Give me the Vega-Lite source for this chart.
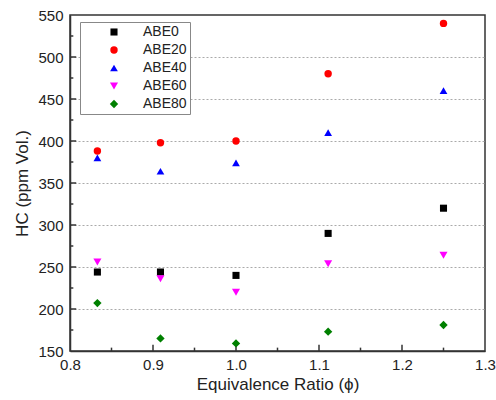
{
  "$schema": "https://vega.github.io/schema/vega-lite/v6.json",
  "width": 415,
  "height": 336,
  "autosize": {"type": "none"},
  "padding": {"left": 70, "top": 15, "right": 11, "bottom": 49},
  "config": {
    "font": "Liberation Sans",
    "view": {"stroke": "#333333", "strokeWidth": 1.5},
    "axis": {
      "domainColor": "#333333",
      "domainWidth": 1.5,
      "labelFont": "Liberation Sans",
      "labelFontSize": 15,
      "labelColor": "#222222",
      "titleFont": "Liberation Sans",
      "titleFontSize": 17,
      "titleFontWeight": "normal",
      "titleColor": "#222222"
    }
  },
  "data": {
    "values": [
      {"phi": 0.833, "hc": 244, "fuel": "ABE0"},
      {"phi": 0.909, "hc": 244, "fuel": "ABE0"},
      {"phi": 1.0, "hc": 240, "fuel": "ABE0"},
      {"phi": 1.111, "hc": 290, "fuel": "ABE0"},
      {"phi": 1.25, "hc": 320, "fuel": "ABE0"},
      {"phi": 0.833, "hc": 388, "fuel": "ABE20"},
      {"phi": 0.909, "hc": 398, "fuel": "ABE20"},
      {"phi": 1.0, "hc": 400, "fuel": "ABE20"},
      {"phi": 1.111, "hc": 480, "fuel": "ABE20"},
      {"phi": 1.25, "hc": 540, "fuel": "ABE20"},
      {"phi": 0.833, "hc": 380, "fuel": "ABE40"},
      {"phi": 0.909, "hc": 364, "fuel": "ABE40"},
      {"phi": 1.0, "hc": 374, "fuel": "ABE40"},
      {"phi": 1.111, "hc": 410, "fuel": "ABE40"},
      {"phi": 1.25, "hc": 460, "fuel": "ABE40"},
      {"phi": 0.833, "hc": 256, "fuel": "ABE60"},
      {"phi": 0.909, "hc": 236, "fuel": "ABE60"},
      {"phi": 1.0, "hc": 220, "fuel": "ABE60"},
      {"phi": 1.111, "hc": 254, "fuel": "ABE60"},
      {"phi": 1.25, "hc": 264, "fuel": "ABE60"},
      {"phi": 0.833, "hc": 207, "fuel": "ABE80"},
      {"phi": 0.909, "hc": 165, "fuel": "ABE80"},
      {"phi": 1.0, "hc": 159, "fuel": "ABE80"},
      {"phi": 1.111, "hc": 173, "fuel": "ABE80"},
      {"phi": 1.25, "hc": 181, "fuel": "ABE80"}
    ]
  },
  "layer": [
    {
      "data": {"values": [{"phi": 0.9}, {"phi": 1.0}, {"phi": 1.1}, {"phi": 1.2}]},
      "mark": {"type": "rule", "color": "#333333", "strokeWidth": 1.5},
      "encoding": {
        "x": {"field": "phi", "type": "quantitative", "scale": {"domain": [0.8, 1.3], "nice": false, "zero": false}},
        "y": {"datum": 150, "type": "quantitative", "scale": {"domain": [150, 550], "nice": false, "zero": false}},
        "y2": {"datum": 157.5}
      }
    },
    {
      "data": {"values": [{"phi": 0.85}, {"phi": 0.95}, {"phi": 1.05}, {"phi": 1.15}, {"phi": 1.25}]},
      "mark": {"type": "rule", "color": "#333333", "strokeWidth": 1.5},
      "encoding": {
        "x": {"field": "phi", "type": "quantitative", "scale": {"domain": [0.8, 1.3], "nice": false, "zero": false}},
        "y": {"datum": 150, "type": "quantitative", "scale": {"domain": [150, 550], "nice": false, "zero": false}},
        "y2": {"datum": 154}
      }
    },
    {
      "data": {"values": [{"hc": 200}, {"hc": 250}, {"hc": 300}, {"hc": 350}, {"hc": 400}, {"hc": 450}, {"hc": 500}]},
      "mark": {"type": "rule", "color": "#333333", "strokeWidth": 1.5},
      "encoding": {
        "y": {"field": "hc", "type": "quantitative", "scale": {"domain": [150, 550], "nice": false, "zero": false}},
        "x": {"datum": 0.8, "type": "quantitative", "scale": {"domain": [0.8, 1.3], "nice": false, "zero": false}},
        "x2": {"datum": 0.8075}
      }
    },
    {
      "data": {"values": [{"hc": 175}, {"hc": 225}, {"hc": 275}, {"hc": 325}, {"hc": 375}, {"hc": 425}, {"hc": 475}, {"hc": 525}]},
      "mark": {"type": "rule", "color": "#333333", "strokeWidth": 1.5},
      "encoding": {
        "y": {"field": "hc", "type": "quantitative", "scale": {"domain": [150, 550], "nice": false, "zero": false}},
        "x": {"datum": 0.8, "type": "quantitative", "scale": {"domain": [0.8, 1.3], "nice": false, "zero": false}},
        "x2": {"datum": 0.804}
      }
    },
    {
      "mark": {"type": "point", "filled": true, "opacity": 1},
      "encoding": {
        "x": {
          "field": "phi",
          "type": "quantitative",
          "title": "Equivalence Ratio (ϕ)",
          "scale": {"domain": [0.8, 1.3], "nice": false, "zero": false},
          "axis": {
            "values": [0.8, 0.9, 1.0, 1.1, 1.2, 1.3],
            "format": ".1f",
            "ticks": false,
            "labelPadding": 6,
            "titlePadding": 4,
            "grid": false,
            "labelFlush": false,
            "labelOverlap": false
          }
        },
        "y": {
          "field": "hc",
          "type": "quantitative",
          "title": "HC (ppm Vol.)",
          "scale": {"domain": [150, 550], "nice": false, "zero": false},
          "axis": {
            "values": [150, 200, 250, 300, 350, 400, 450, 500, 550],
            "ticks": false,
            "labelPadding": 7,
            "titlePadding": 6,
            "grid": true,
            "gridDash": [2, 2],
            "gridColor": "#aaaaaa",
            "gridWidth": 1,
            "gridOpacity": {"condition": {"test": "datum.value > 150 && datum.value < 550", "value": 1}, "value": 0},
            "labelFlush": false,
            "labelOverlap": false
          }
        },
        "color": {
          "field": "fuel",
          "type": "nominal",
          "scale": {"domain": ["ABE0", "ABE20", "ABE40", "ABE60", "ABE80"], "range": ["#000000", "#ff0000", "#0000ff", "#ff00ff", "#008000"]},
          "legend": {
            "title": null,
            "orient": "none",
            "legendX": 10,
            "legendY": 7,
            "strokeColor": "#888888",
            "padding": 3,
            "labelFontSize": 14,
            "labelFont": "Liberation Sans",
            "labelColor": "#222222",
            "symbolSize": 70,
            "symbolOffset": 24,
            "labelOffset": 22,
            "rowPadding": 4,
            "fillColor": "white"
          }
        },
        "shape": {
          "field": "fuel",
          "type": "nominal",
          "scale": {"domain": ["ABE0", "ABE20", "ABE40", "ABE60", "ABE80"], "range": ["square", "circle", "triangle-up", "triangle-down", "diamond"]}
        },
        "size": {
          "field": "fuel",
          "type": "ordinal",
          "legend": null,
          "scale": {"domain": ["ABE0", "ABE20", "ABE40", "ABE60", "ABE80"], "range": [50, 70, 130, 130, 110]}
        }
      }
    }
  ]
}
